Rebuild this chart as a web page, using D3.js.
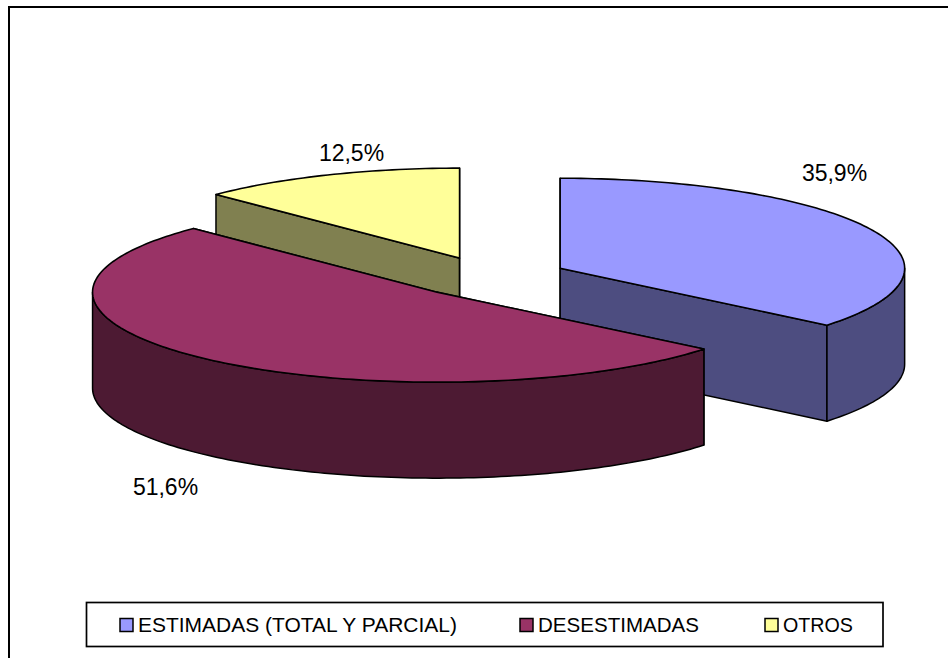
<!DOCTYPE html>
<html>
<head>
<meta charset="utf-8">
<script src="https://cdn.jsdelivr.net/npm/d3@7"></script>
<style>
html, body { margin: 0; padding: 0; background: #fff; }
svg { display: block; }
text { font-family: "Liberation Sans", Arial, sans-serif; fill: #000; }
</style>
</head>
<body>
<div id="chart"></div>
<script>
const categories = ["ESTIMADAS (TOTAL Y PARCIAL)", "DESESTIMADAS", "OTROS"];
const values = [35.9, 51.6, 12.5];
const valueLabels = ["35,9%", "51,6%", "12,5%"];
const topColors = ["#9999ff", "#993366", "#ffff99"];
const sideColors = ["#4d4d80", "#4d1a33", "#808050"];

const width = 948, height = 658;
const cx = 489.5, cy = 277, rx = 344.5, ry = 90, depth = 96, explode = 0.227;

const svg = d3.select("#chart").append("svg")
    .attr("width", width)
    .attr("height", height);

// chart frame, cut by the window on the right and at the bottom
svg.append("rect")
    .attr("x", 9).attr("y", 7)
    .attr("width", 960).attr("height", 670)
    .attr("fill", "#fff")
    .attr("stroke", "#000")
    .attr("stroke-width", 2);

const pie = d3.pie().sort(null).value(d => d);
const arcs = pie(values);

// unit circle to pixels, the ellipse squashes y
const sx = d3.scaleLinear().domain([-1, 1]).range([cx - rx, cx + rx]);
const sy = d3.scaleLinear().domain([-1, 1]).range([cy - ry, cy + ry]);
const line = d3.line();

function project(a, r, d, off) {
    return [sx(off.x + r * Math.sin(a)), sy(off.y - r * Math.cos(a)) + (d || 0)];
}

arcs.forEach(function(d, i) {
    const mid = (d.startAngle + d.endAngle) / 2;
    d.off = {x: explode * Math.sin(mid), y: -explode * Math.cos(mid)};
    d.index = i;
});

function rimAngles(a0, a1) {
    const n = Math.max(2, Math.ceil((a1 - a0) / 0.02));
    return d3.range(n + 1).map(k => a0 + (a1 - a0) * k / n);
}

function drawSide(g, pts, fill) {
    g.append("path")
        .attr("d", line(pts) + "Z")
        .attr("fill", fill)
        .attr("stroke", "#000")
        .attr("stroke-width", 1.5)
        .attr("stroke-linejoin", "round");
}

// back to front: otros, estimadas, desestimadas
const order = [2, 0, 1];
order.forEach(function(i) {
    const d = arcs[i];
    const g = svg.append("g");
    const apex = project(0, 0, 0, d.off);
    const apexLow = project(0, 0, depth, d.off);

    // straight cut walls
    [d.startAngle, d.endAngle].forEach(function(a) {
        drawSide(g, [apex, project(a, 1, 0, d.off), project(a, 1, depth, d.off), apexLow], sideColors[i]);
    });

    // outer wall, only the part facing the viewer
    const a0 = Math.max(d.startAngle, Math.PI / 2);
    const a1 = Math.min(d.endAngle, Math.PI * 1.5);
    if (a1 > a0) {
        const up = rimAngles(a0, a1).map(a => project(a, 1, 0, d.off));
        const down = rimAngles(a0, a1).reverse().map(a => project(a, 1, depth, d.off));
        drawSide(g, up.concat(down), sideColors[i]);
    }

    // top face
    const rim = rimAngles(d.startAngle, d.endAngle).map(a => project(a, 1, 0, d.off));
    g.append("path")
        .attr("d", line([apex].concat(rim)) + "Z")
        .attr("fill", topColors[i])
        .attr("stroke", "#000")
        .attr("stroke-width", 1.6)
        .attr("stroke-linejoin", "round");
});

const labelPos = [[834.5, 173], [165.5, 487], [351.5, 153]];
valueLabels.forEach(function(t, i) {
    svg.append("text")
        .attr("x", labelPos[i][0])
        .attr("y", labelPos[i][1])
        .attr("dy", "0.35em")
        .attr("text-anchor", "middle")
        .attr("font-size", 23)
        .text(t);
});

// legend
const legend = svg.append("g");
legend.append("rect")
    .attr("x", 86.5).attr("y", 602.5)
    .attr("width", 796.5).attr("height", 44)
    .attr("fill", "#fff")
    .attr("stroke", "#000")
    .attr("stroke-width", 1.7);

const legendX = [120, 520, 765];
const legendTextWidth = [319, 161, 70];
categories.forEach(function(c, i) {
    legend.append("rect")
        .attr("x", legendX[i]).attr("y", 618.5)
        .attr("width", 13).attr("height", 13)
        .attr("fill", topColors[i])
        .attr("stroke", "#000")
        .attr("stroke-width", 1.5);
    legend.append("text")
        .attr("x", legendX[i] + 18)
        .attr("y", 625)
        .attr("dy", "0.35em")
        .attr("font-size", 20.5)
        .attr("textLength", legendTextWidth[i])
        .attr("lengthAdjust", "spacingAndGlyphs")
        .text(c);
});
</script>
</body>
</html>
